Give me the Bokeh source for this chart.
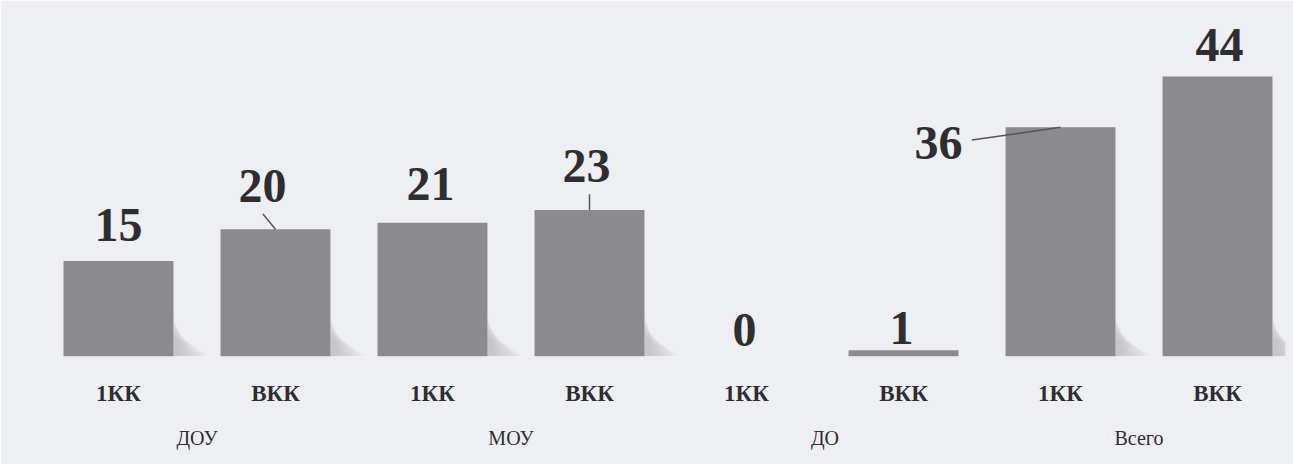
from bokeh.plotting import figure
from bokeh.models import FactorRange, Range1d, ColumnDataSource
from bokeh.embed import file_html
from bokeh.resources import INLINE
from bokeh.core.properties import value

# ---- data ----
groups = ["ДОУ", "МОУ", "ДО", "Всего"]
levels = ["1КК", "ВКК"]
counts = [15, 20, 21, 23, 0, 1, 36, 44]

# ---- style (label placement in pixels, relative to bar top) ----
label_dx = [0, -13, -2, -3, -2, -2, -122, 2]
label_dy = [-36, -43, -39, -44, -27, -22, 16, -31]

factors = [(g, l) for g in groups for l in levels]
texts = [str(c) for c in counts]

src = ColumnDataSource(dict(x=factors, top=counts, text=texts, dx=label_dx, dy=label_dy))

BG = "#eeeff2"
BAR = "#8b8b8d"
INK = "#2e2e30"

xr = FactorRange(*factors, group_padding=0, factor_padding=0, subgroup_padding=0,
                 range_padding=-0.067, range_padding_units="absolute")
p = figure(x_range=xr, y_range=Range1d(0, 53.1), width=1293, height=464,
           output_backend="svg", toolbar_location=None,
           min_border_left=50, min_border_right=8, min_border_top=18, min_border_bottom=108)

p.background_fill_color = BG
p.border_fill_color = BG
p.outline_line_color = None
p.grid.grid_line_color = None
p.yaxis.visible = False

# soft shadows to the right of the bars (decorative)
for f, c in zip(factors, counts):
    if c < 2:
        continue
    for k in range(8):
        w = 0.05 + 0.025 * k
        h = 6.5 - 0.5 * k
        p.patch(x=[f + (0.35,), f + (0.35 + w,), f + (0.35 + w * 0.6,), f + (0.35,)],
                y=[0, 0, h * 0.5, min(h, c)],
                fill_color="#7d7d7f", fill_alpha=0.045, line_color=None)

p.vbar(x="x", top="top", width=0.70, source=src, fill_color=BAR, line_color=None)

p.text(x="x", y="top", text="text", x_offset="dx", y_offset="dy", source=src,
       text_font=value("Liberation Serif"), text_font_style="bold",
       text_font_size="48px", text_color=INK, text_align="center",
       text_baseline="alphabetic")

# leader lines (derived from bar positions)
lead_x0 = [factors[1], factors[3], factors[6]]
lead_y0 = [counts[1], counts[3], counts[6]]
lead_x1 = [factors[1] + (-0.08,), factors[3] + (0.0,), factors[6] + (-0.565,)]
lead_y1 = [counts[1] + 2.4, counts[3] + 2.5, counts[6] - 2.0]
p.segment(x0=lead_x0, y0=lead_y0, x1=lead_x1, y1=lead_y1, line_color="#555557", line_width=1.5)

ax = p.xaxis[0]
ax.axis_line_color = None
ax.major_tick_line_color = None
ax.minor_tick_line_color = None
ax.separator_line_alpha = 0
ax.major_label_standoff = 18
ax.major_label_text_font = "Liberation Serif"
ax.major_label_text_font_style = "bold"
ax.major_label_text_font_size = "23px"
ax.major_label_text_color = INK
ax.group_text_font = "Liberation Serif"
ax.group_text_font_style = "normal"
ax.group_text_font_size = "20px"
ax.group_text_color = INK

open("out.html", "w").write(file_html(p, INLINE))
